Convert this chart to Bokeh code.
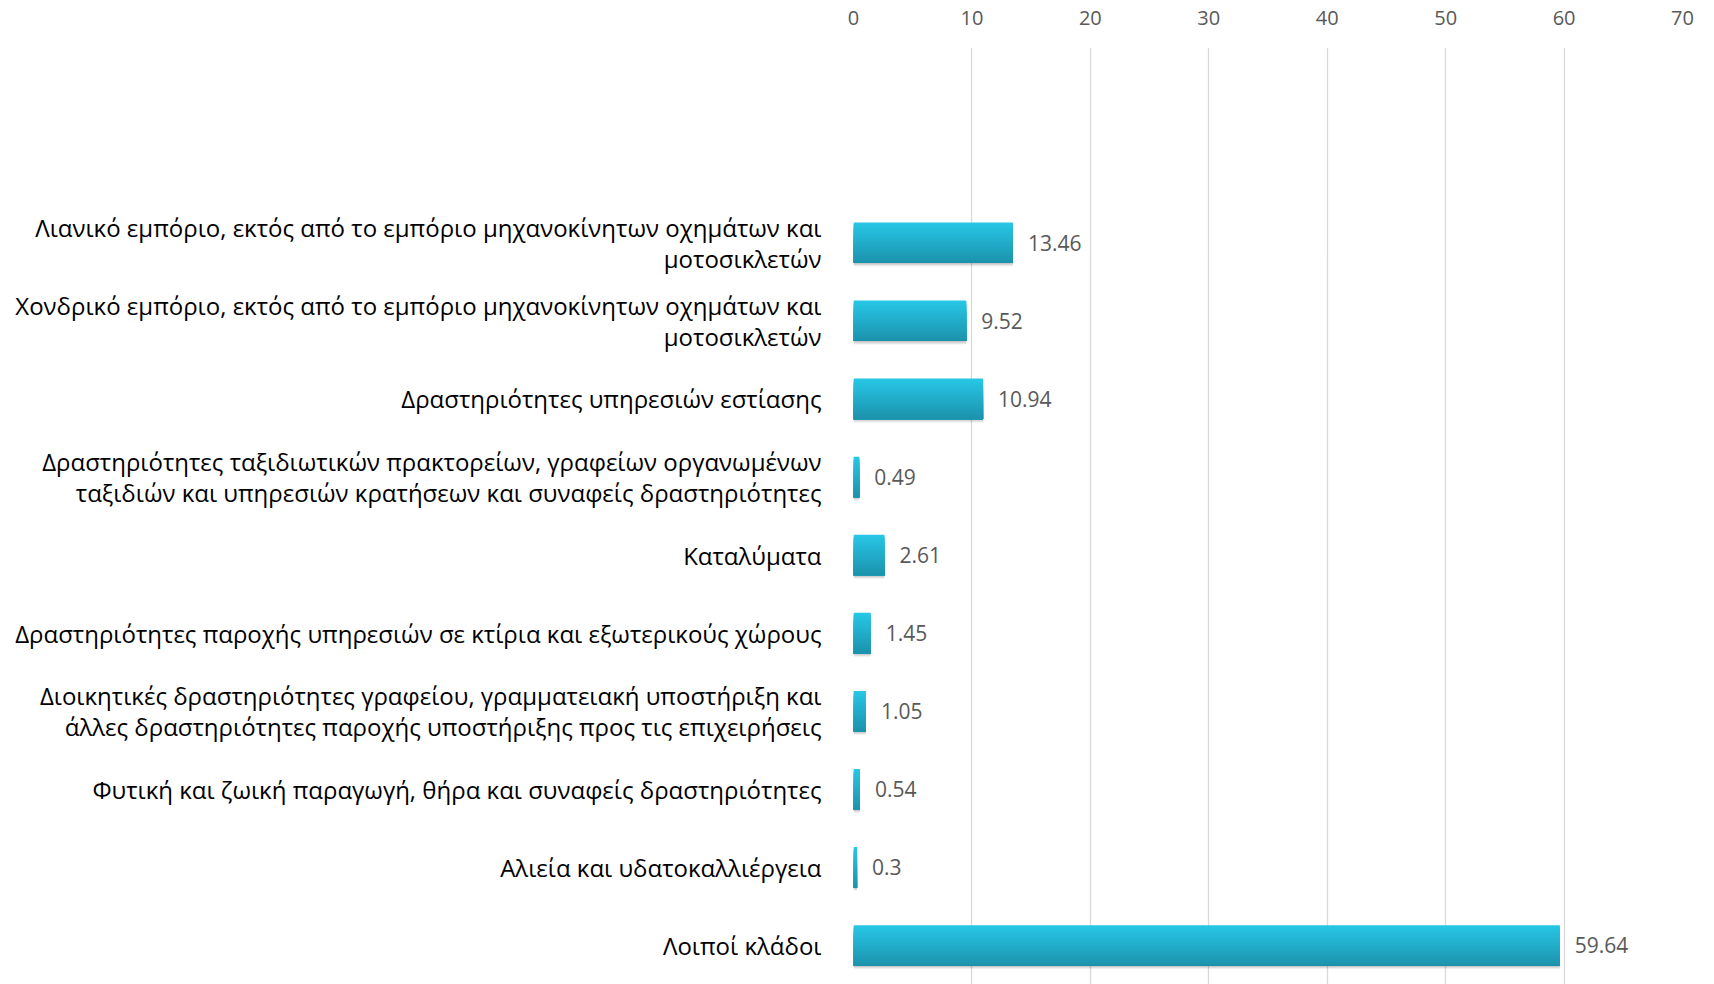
from bokeh.plotting import figure
from bokeh.models import FactorRange, Range1d, ColumnDataSource, FixedTicker
from bokeh.transform import dodge
from bokeh.core.properties import value
from bokeh.embed import file_html
from bokeh.resources import INLINE

# ---- data ----
categories = [
    "Λιανικό εμπόριο, εκτός από το εμπόριο μηχανοκίνητων οχημάτων και\nμοτοσικλετών",
    "Χονδρικό εμπόριο, εκτός από το εμπόριο μηχανοκίνητων οχημάτων και\nμοτοσικλετών",
    "Δραστηριότητες υπηρεσιών εστίασης",
    "Δραστηριότητες ταξιδιωτικών πρακτορείων, γραφείων οργανωμένων\nταξιδιών και υπηρεσιών κρατήσεων και συναφείς δραστηριότητες",
    "Καταλύματα",
    "Δραστηριότητες παροχής υπηρεσιών σε κτίρια και εξωτερικούς χώρους",
    "Διοικητικές δραστηριότητες γραφείου, γραμματειακή υποστήριξη και\nάλλες δραστηριότητες παροχής υποστήριξης προς τις επιχειρήσεις",
    "Φυτική και ζωική παραγωγή, θήρα και συναφείς δραστηριότητες",
    "Αλιεία και υδατοκαλλιέργεια",
    "Λοιποί κλάδοι",
]
values = [13.46, 9.52, 10.94, 0.49, 2.61, 1.45, 1.05, 0.54, 0.3, 59.64]
value_labels = ["13.46", "9.52", "10.94", "0.49", "2.61", "1.45", "1.05", "0.54", "0.3", "59.64"]
x_ticks = [0, 10, 20, 30, 40, 50, 60, 70]
blank_slots = [" ", "  "]

# ---- figure ----
factors = list(reversed(categories)) + blank_slots
p = figure(
    width=1714, height=984,
    y_range=FactorRange(factors=factors),
    x_range=Range1d(0, 70),
    x_axis_location="above",
    output_backend="svg", toolbar_location=None,
    min_border_left=853, min_border_right=32, min_border_top=47, min_border_bottom=0,
)
p.outline_line_color = None
p.background_fill_color = "white"
p.border_fill_color = "white"

p.xgrid.grid_line_color = "#D9D9D9"
p.xgrid.grid_line_width = 1.3
p.xgrid.ticker = FixedTicker(ticks=x_ticks)
p.ygrid.grid_line_color = None

xa = p.xaxis[0]
xa.ticker = FixedTicker(ticks=x_ticks)
xa.axis_line_color = None
xa.major_tick_line_color = None
xa.minor_tick_line_color = None
xa.major_label_text_font = "Open Sans"
xa.major_label_text_font_size = "20px"
xa.major_label_text_color = "#595959"
xa.major_label_standoff = 17

ya = p.yaxis[0]
ya.axis_line_color = None
ya.major_tick_line_color = None
ya.minor_tick_line_color = None
ya.major_label_text_font = "Open Sans"
ya.major_label_text_font_size = "24px"
ya.major_label_text_color = "#000000"
ya.major_label_text_line_height = 0.95
ya.major_label_standoff = 26

src = ColumnDataSource(dict(cat=categories, val=values, lab=value_labels))

bar_h = 0.52
# soft shadow below/right of bars
for off, alpha in [(-0.045, 0.06), (-0.03, 0.08), (-0.015, 0.10)]:
    p.hbar(y=dodge("cat", off, range=p.y_range), left=0, right="val", height=bar_h,
           source=src, fill_color="#000000", fill_alpha=alpha, line_color=None)

# vertical gradient bars: stacked slices, each from its top down to the bar bottom
top = (0x27, 0xC6, 0xE5)
bot = (0x1C, 0x93, 0xAD)
N = 24
for k in range(N):
    t = k / (N - 1)
    col = "#%02x%02x%02x" % tuple(int(round(a + (b - a) * t)) for a, b in zip(top, bot))
    h = bar_h * (N - k) / N
    off = -bar_h / 2 + h / 2
    p.hbar(y=dodge("cat", off, range=p.y_range), left=0, right="val", height=h,
           source=src, fill_color=col, line_color=None)

p.text(x="val", y="cat", text="lab", source=src, x_offset=15,
       text_baseline="middle", text_align="left", text_color="#595959",
       text_font_size="21px", text_font=value("Open Sans"))

open("out.html", "w").write(file_html(p, INLINE))
